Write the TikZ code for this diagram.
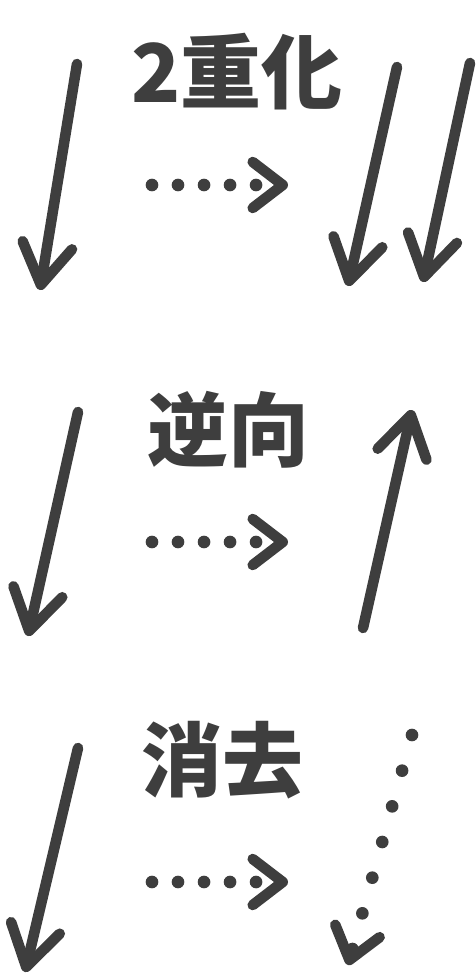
\documentclass[tikz,border=0pt]{standalone}
\usepackage{fontspec}
\newfontfamily\jpfont{Noto Sans CJK JP}
\definecolor{ink}{RGB}{62,62,62}
\usetikzlibrary{arrows.meta}
\tikzset{
  pen/.style={draw=ink,line width=3pt,line cap=round,line join=round,
              -{Straight Barb[round,length=4mm,width=5mm]}},
  dots/.style={draw=ink,line width=3.6pt,line cap=round,
               dash pattern=on 0pt off #1,
               -{Straight Barb[round,length=3mm,width=4.6mm,line width=3pt]}},
  dots/.default=2.6mm,
  word/.style={font=\jpfont\bfseries\fontsize{23}{23}\selectfont,
               text=ink,inner sep=0pt},
}
\begin{document}
\begin{tikzpicture}[x=0.01cm,y=-0.01cm]
  \useasboundingbox (0,0) rectangle (475,979);

  %% left column: the same arrow in every row
  \foreach \row/\xa/\ya/\xb/\yb in {a/77/64/40/290, b/78/412/28/636, c/78/748/25/972}{
    \coordinate (top\row) at (\xa,\ya);
    \coordinate (bot\row) at (\xb,\yb);
    \draw[pen] (top\row) -- (bot\row);
  }

  %% operation words and the dotted arrows under them
  \foreach \row/\word/\wx/\wy/\dy in {a/2重化/237/72/185, b/逆向/228/430/542, c/消去/222/760/882}{
    \node[word] (word\row) at (\wx,\wy) {\word};
    \coordinate (dfrom\row) at (152,\dy);
    \coordinate (dto\row) at (288,\dy);
    \draw[dots] (dfrom\row) -- (dto\row);
  }

  %% right column
  %% doubled
  \coordinate (rtopa) at (397,67);
  \coordinate (rbota) at (348,286);
  \coordinate (rtopaa) at (470,63);
  \coordinate (rbotaa) at (423,282);
  \draw[pen] (rtopa) -- (rbota);
  \draw[pen] (rtopaa) -- (rbotaa);

  %% reversed
  \coordinate (rbotb) at (363,628);
  \coordinate (rtopb) at (412,410);
  \draw[pen] (rbotb) -- (rtopb);

  %% erased
  \coordinate (rtopc) at (412,735);
  \coordinate (rbotc) at (348,965);
  \draw[dots=3.7mm] (rtopc) -- (rbotc);

\end{tikzpicture}
\end{document}
